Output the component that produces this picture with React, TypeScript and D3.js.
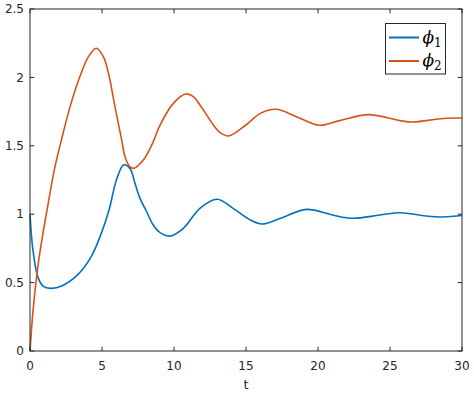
import React from "react"
import * as d3 from "d3"

// phi_1 (blue) samples
const tPhi1 = [0, 0.2, 0.55, 0.9, 1.45, 2.2, 3.3, 4.25, 4.95, 5.5, 6.0, 6.5, 6.94, 7.29, 7.64, 8.1, 8.56, 9.03, 9.72, 10.65, 11.8, 13.0, 14.1, 15.3, 16.1, 17.4, 19.2, 21.0, 22.4, 24.3, 25.7, 27.5, 28.7, 30]
const phi1 = [1.0, 0.74, 0.54, 0.475, 0.458, 0.475, 0.556, 0.69, 0.86, 1.035, 1.25, 1.36, 1.335, 1.226, 1.116, 1.018, 0.921, 0.865, 0.84, 0.897, 1.043, 1.109, 1.043, 0.958, 0.928, 0.97, 1.035, 0.994, 0.97, 0.994, 1.011, 0.987, 0.98, 0.99]

// phi_2 (orange)
const tPhi2 = [0, 0.2, 0.55, 0.9, 1.3, 1.7, 2.15, 2.85, 3.55, 4.05, 4.6, 5.1, 5.45, 5.9, 6.35, 6.6, 6.9, 7.18, 7.87, 8.56, 8.98, 9.95, 10.8, 11.35, 11.8, 12.27, 12.73, 13.2, 13.8, 15.0, 16.0, 17.1, 18.5, 20.1, 21.5, 23.5, 25.7, 26.6, 28.7, 30]
const phi2 = [0, 0.28, 0.62, 0.86, 1.1, 1.33, 1.53, 1.81, 2.03, 2.15, 2.213, 2.15, 2.03, 1.786, 1.55, 1.42, 1.352, 1.335, 1.396, 1.53, 1.64, 1.81, 1.879, 1.86, 1.798, 1.725, 1.652, 1.596, 1.572, 1.652, 1.737, 1.767, 1.713, 1.65, 1.684, 1.728, 1.684, 1.674, 1.7, 1.703]

const xTicks = [0, 5, 10, 15, 20, 25, 30]
const yTicks = [0, 0.5, 1, 1.5, 2, 2.5]
const seriesNames = ["1", "2"]
const colors = ["#0072BD", "#D95319"]

const width = 474
const height = 393
const margin = { top: 9, right: 12, bottom: 42, left: 30 }
const axisColor = "#262626"
const tickLen = 4.3

export default function App() {
  const x = d3.scaleLinear().domain([0, 30]).range([margin.left, width - margin.right])
  const y = d3.scaleLinear().domain([0, 2.5]).range([height - margin.bottom, margin.top])

  const line = d3.line<[number, number]>()
    .x(d => x(d[0]))
    .y(d => y(d[1]))
    .curve(d3.curveCatmullRom.alpha(0.5))

  const series = [
    tPhi1.map((t, i) => [t, phi1[i]] as [number, number]),
    tPhi2.map((t, i) => [t, phi2[i]] as [number, number]),
  ]

  const [x0, x1] = x.range()
  const [y0, y1] = y.range()

  const legX = 385.5
  const legY = 23.5

  return (
    <svg width={width} height={height} style={{ position: "absolute", left: 0, top: 0, background: "#fff" }}
      fontFamily="'DejaVu Sans', sans-serif">
      {series.map((s, i) => (
        <path key={i} d={line(s) ?? ""} fill="none" stroke={colors[i]} strokeWidth={1.6} />
      ))}

      {/* box */}
      <rect x={x0} y={y1} width={x1 - x0} height={y0 - y1} fill="none" stroke={axisColor} strokeWidth={1} />

      {xTicks.map(t => (
        <g key={"x" + t}>
          <line x1={x(t)} x2={x(t)} y1={y0} y2={y0 - tickLen} stroke={axisColor} />
          <line x1={x(t)} x2={x(t)} y1={y1} y2={y1 + tickLen} stroke={axisColor} />
          <text x={x(t)} y={y0 + 19} textAnchor="middle" fontSize={12} fill={axisColor}>{t}</text>
        </g>
      ))}
      {yTicks.map(v => (
        <g key={"y" + v}>
          <line x1={x0} x2={x0 + tickLen} y1={y(v)} y2={y(v)} stroke={axisColor} />
          <line x1={x1} x2={x1 - tickLen} y1={y(v)} y2={y(v)} stroke={axisColor} />
          <text x={x0 - 6} y={y(v)} dy="0.35em" textAnchor="end" fontSize={12} fill={axisColor}>{v}</text>
        </g>
      ))}

      <text x={(x0 + x1) / 2} y={y0 + 38} textAnchor="middle" fontSize={13} fill={axisColor}>t</text>

      {/* legend */}
      <rect x={legX} y={legY} width={60} height={50.5} fill="#fff" stroke={axisColor} strokeWidth={1} />
      {seriesNames.map((n, i) => (
        <g key={n} transform={`translate(${legX}, ${legY + 14 + i * 23.5})`}>
          <line x1={3.5} x2={33.5} y1={0} y2={0} stroke={colors[i]} strokeWidth={2} />
          <text x={37} y={5} fontSize={17} fontStyle="italic" fontFamily="'DejaVu Serif', serif" fill="#000">
            ϕ<tspan fontSize={12} fontStyle="normal" dy={4}>{n}</tspan>
          </text>
        </g>
      ))}
    </svg>
  )
}
